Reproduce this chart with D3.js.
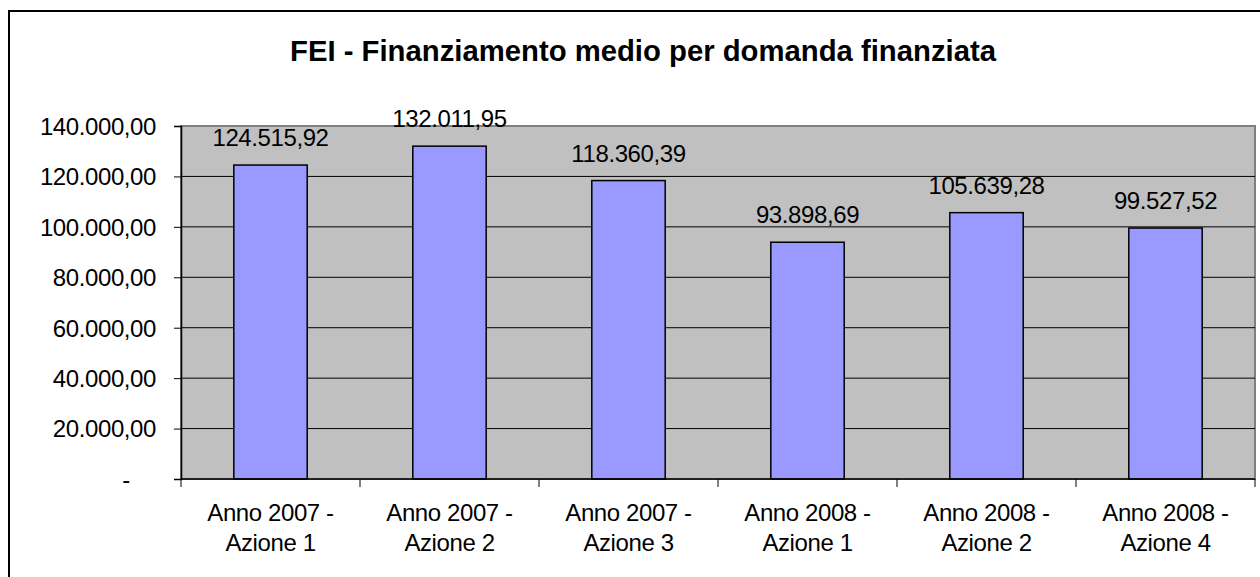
<!DOCTYPE html>
<html>
<head>
<meta charset="utf-8">
<script src="https://cdnjs.cloudflare.com/ajax/libs/d3/7.8.5/d3.min.js"></script>
<style>
  body { margin: 0; background: #fff; }
  text { font-family: "Liberation Sans", Arial, sans-serif; fill: #000; }
</style>
</head>
<body>
<div id="chart"></div>
<script>
// data
const categories = [
  ["Anno 2007 -", "Azione 1"],
  ["Anno 2007 -", "Azione 2"],
  ["Anno 2007 -", "Azione 3"],
  ["Anno 2008 -", "Azione 1"],
  ["Anno 2008 -", "Azione 2"],
  ["Anno 2008 -", "Azione 4"]
];
const values = [124515.92, 132011.95, 118360.39, 93898.69, 105639.28, 99527.52];
const yTicks = [0, 20000, 40000, 60000, 80000, 100000, 120000, 140000];
const title = "FEI - Finanziamento medio per domanda finanziata";

const width = 1260, height = 577;
const plotL = 181, plotR = 1255, plotT = 126, plotB = 479;

// italian number format: 1.234,56
const it = d3.formatLocale({decimal: ",", thousands: ".", grouping: [3], currency: ["€", ""]});
const fmt = it.format(",.2f");

const svg = d3.select("#chart").append("svg")
  .attr("width", width)
  .attr("height", height);

// outer chart border (runs off the right and bottom edges)
svg.append("rect")
  .attr("x", 9).attr("y", 11)
  .attr("width", 1400).attr("height", 700)
  .attr("fill", "none")
  .attr("stroke", "#000")
  .attr("stroke-width", 2);

svg.append("text")
  .attr("x", 643).attr("y", 61)
  .attr("text-anchor", "middle")
  .attr("font-size", 29)
  .attr("font-weight", "bold")
  .attr("textLength", 706)
  .attr("lengthAdjust", "spacingAndGlyphs")
  .text(title);

let x = d3.scaleBand()
  .domain(d3.range(categories.length))
  .range([plotL, plotR])
  .padding(0);

let y = d3.scaleLinear()
  .domain([0, 140000])
  .range([plotB, plotT]);

// plot area
svg.append("rect")
  .attr("x", plotL).attr("y", plotT)
  .attr("width", plotR - plotL).attr("height", plotB - plotT)
  .attr("fill", "#c0c0c0")
  .attr("stroke", "#808080")
  .attr("stroke-width", 2);

// gridlines
svg.append("g").selectAll("line")
  .data(yTicks.filter(d => d > 0 && d < 140000))
  .enter().append("line")
  .attr("x1", plotL).attr("x2", plotR)
  .attr("y1", d => y(d)).attr("y2", d => y(d))
  .attr("stroke", "#000")
  .attr("stroke-width", 1);

// bars
let barW = x.bandwidth() * 0.41;
svg.append("g").selectAll("rect")
  .data(values)
  .enter().append("rect")
  .attr("x", (d, i) => x(i) + (x.bandwidth() - barW) / 2)
  .attr("y", d => y(d))
  .attr("width", barW)
  .attr("height", d => plotB - y(d))
  .attr("fill", "#9999ff")
  .attr("stroke", "#000")
  .attr("stroke-width", 1.5);

// value labels
svg.append("g").selectAll("text")
  .data(values)
  .enter().append("text")
  .attr("x", (d, i) => x(i) + x.bandwidth() / 2)
  .attr("y", d => y(d) - 19)
  .attr("text-anchor", "middle")
  .attr("font-size", 24)
  .attr("letter-spacing", -0.4)
  .text(d => fmt(d));

// y axis
let yAxis = svg.append("g").attr("transform", "translate(" + plotL + ",0)")
  .call(d3.axisLeft(y).tickValues(yTicks).tickSize(7).tickFormat(d => d === 0 ? "-" : fmt(d)));
yAxis.select(".domain").attr("stroke", "#000").attr("stroke-width", 1.5);
yAxis.selectAll(".tick line").attr("stroke", "#000");
yAxis.selectAll(".tick text")
  .attr("font-family", "Liberation Sans, Arial, sans-serif")
  .attr("font-size", 24)
  .attr("letter-spacing", -0.4)
  .attr("fill", "#000")
  .attr("x", -25)
  .attr("dy", "0.35em");
yAxis.selectAll(".tick text").filter(d => d === 0)
  .attr("text-anchor", "middle")
  .attr("x", -55);

// x axis
let xAxisG = svg.append("g").attr("transform", "translate(0," + plotB + ")");
xAxisG.append("line")
  .attr("x1", plotL).attr("x2", plotR)
  .attr("stroke", "#000").attr("stroke-width", 1.5);
xAxisG.selectAll(".xtick")
  .data(d3.range(categories.length + 1))
  .enter().append("line")
  .attr("x1", i => plotL + i * x.step())
  .attr("x2", i => plotL + i * x.step())
  .attr("y1", 0).attr("y2", 8)
  .attr("stroke", "#000");

let cat = xAxisG.selectAll(".cat")
  .data(categories)
  .enter().append("text")
  .attr("text-anchor", "middle")
  .attr("font-size", 24)
  .attr("letter-spacing", -0.4)
  .attr("transform", (d, i) => "translate(" + (x(i) + x.bandwidth() / 2) + ",0)");
cat.append("tspan").attr("x", 0).attr("y", 42).text(d => d[0]);
cat.append("tspan").attr("x", 0).attr("y", 72).text(d => d[1]);
</script>
</body>
</html>
